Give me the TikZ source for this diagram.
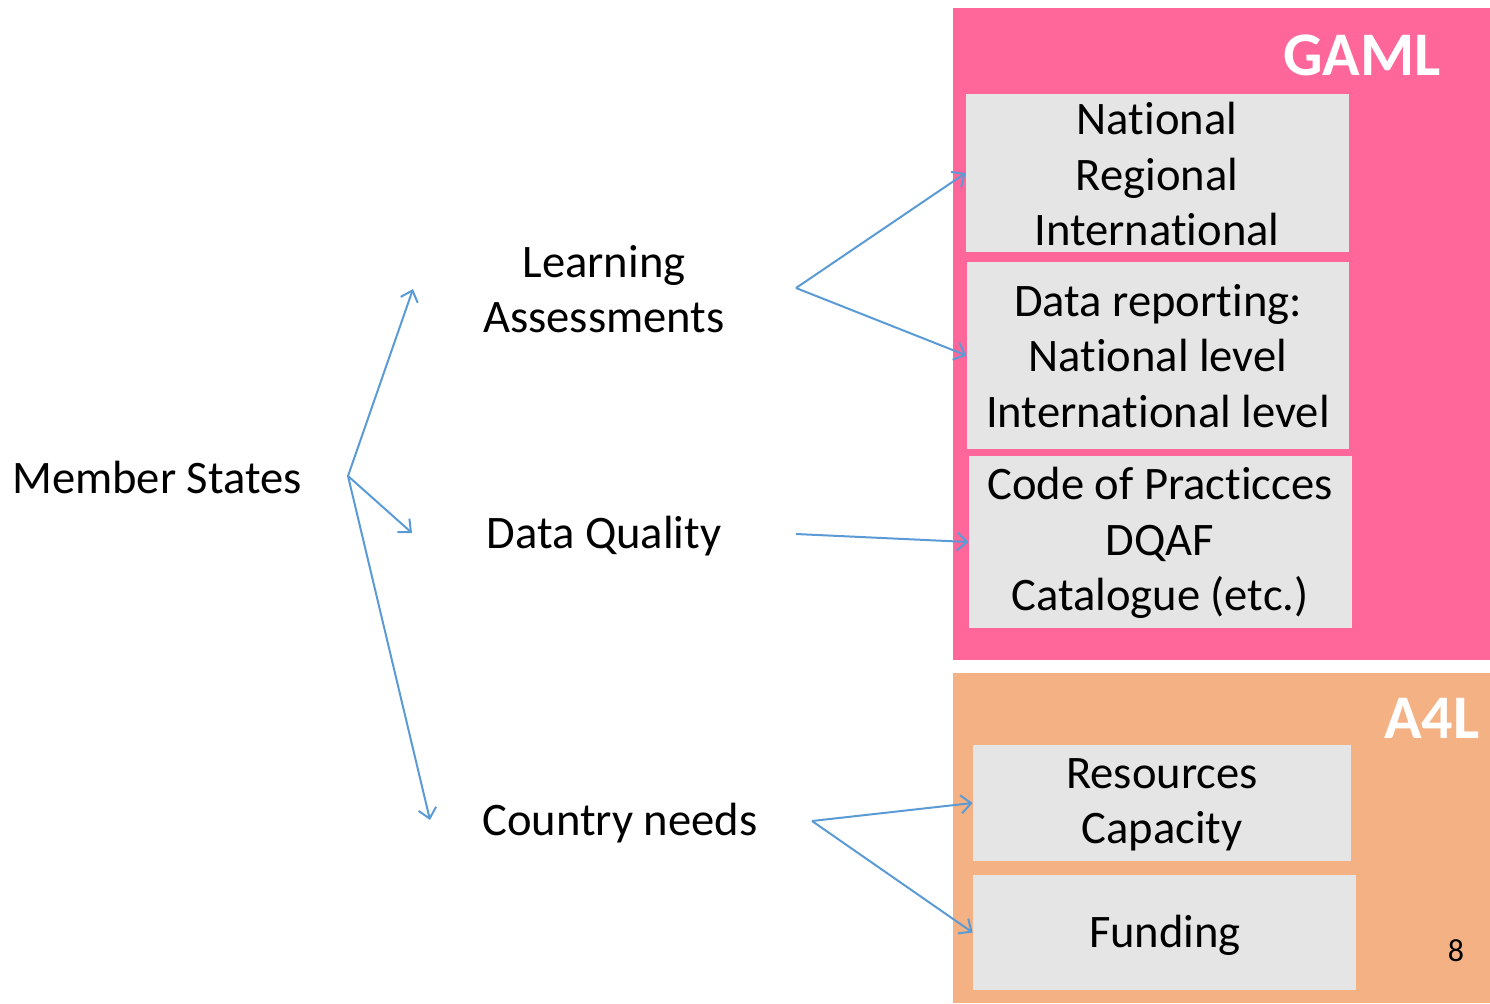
\documentclass[tikz,border=0pt]{standalone}
\usepackage{fontspec}
\setmainfont[Ligatures=NoCommon]{Carlito}
\usetikzlibrary{arrows.meta}
\definecolor{gamlpink}{RGB}{255,102,153}
\definecolor{afourl}{RGB}{244,177,131}
\definecolor{boxgray}{RGB}{229,229,229}
\definecolor{arrowblue}{RGB}{91,155,213}
\begin{document}
\begin{tikzpicture}[x=0.5pt,y=-0.5pt,
  txt/.style={font=\fontsize{23.3}{27.75}\selectfont, align=center, inner sep=0pt, text=black},
  graybox/.style={fill=boxgray, draw=none, inner sep=0pt},
  title/.style={font=\fontsize{31}{36}\selectfont\bfseries, text=white, inner sep=0pt},
  conn/.style={draw=arrowblue, line width=1pt, -{Straight Barb[length=5pt,width=9pt,line width=1pt]}}
]
\useasboundingbox (0,0) rectangle (1490,1003);
% background panels
\fill[gamlpink] (953,8) rectangle (1490,660);
\fill[afourl] (953,673) rectangle (1490,1003);
\node[title] (gaml) at (1362,55) {GAML};
\node[title] (a4l) at (1432,718) {A4L};
\node[font=\fontsize{16}{18}\selectfont, inner sep=0pt] (pnum) at (1456,951) {8};

% gray boxes
\node[graybox, minimum width=191.5pt, minimum height=79pt] (b1) at (1157.5,173) {};
\node[graybox, minimum width=191pt, minimum height=93.5pt] (b2) at (1158,355.5) {};
\node[graybox, minimum width=191.5pt, minimum height=86pt] (b3) at (1160.5,542) {};
\node[graybox, minimum width=189pt, minimum height=58pt] (b4) at (1162,803) {};
\node[graybox, minimum width=191.5pt, minimum height=57.5pt] (b5) at (1164.5,932.5) {};

% box texts
\node[txt] (t1) at (1157,174) {National\\Regional\\International};
\node[txt] (t2) at (1158,356) {Data reporting:\\National level\\International level};
\node[txt] (t3) at (1160,543) {Code of Practicces\\DQAF\\Catalogue (etc.)};
\node[txt] (t4) at (1162,805) {Resources\\Capacity};
\node[txt] (t5) at (1165,935) {Funding};

% text nodes
\node[txt] (ms) at (157,477) {Member States};
\node[txt] (la) at (604,289) {Learning\\Assessments};
\node[txt] (dq) at (604,536) {Data Quality};
\node[txt] (cn) at (620,823) {Country needs};

% connector points
\coordinate (msp) at (348,476);
\coordinate (laL) at (413,289);
\coordinate (dqL) at (412,533);
\coordinate (cnL) at (430,820);
\coordinate (laR) at (796,288);
\coordinate (dqR) at (796,534);
\coordinate (cnR) at (812,821);

\draw[conn] (msp) -- (laL);
\draw[conn] (msp) -- (dqL);
\draw[conn] (msp) -- (cnL);
\draw[conn] (laR) -- (b1.west);
\draw[conn] (laR) -- (b2.west);
\draw[conn] (dqR) -- (b3.west);
\draw[conn] (cnR) -- (b4.west);
\draw[conn] (cnR) -- (b5.west);
\end{tikzpicture}
\end{document}
